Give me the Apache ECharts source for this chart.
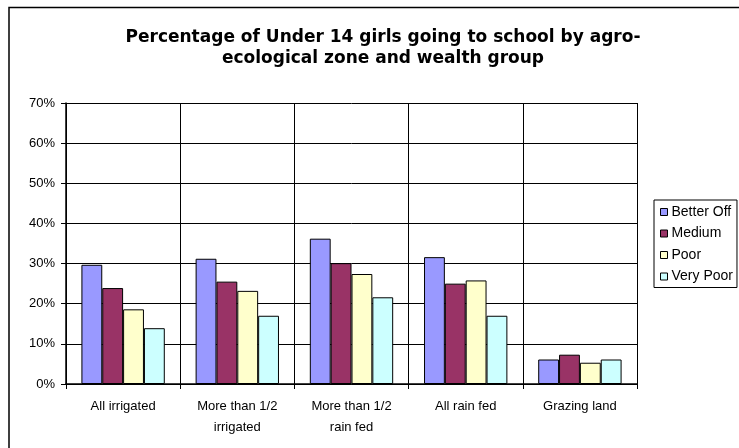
<!DOCTYPE html>
<html>
<head>
<meta charset="utf-8">
<script src="https://cdn.jsdelivr.net/npm/echarts@6/dist/echarts.min.js"></script>
<style>
  html, body { margin: 0; padding: 0; background: #fff; }
  #chart { width: 739px; height: 448px; }
</style>
</head>
<body>
<div id="chart"></div>
<script>
// Agro-ecological zones (x-axis categories)
const zones = ['All irrigated', 'More than 1/2\nirrigated', 'More than 1/2\nrain fed', 'All rain fed', 'Grazing land'];

// Share of under-14 girls attending school, percent, by wealth group
const betterOff = [29.7, 31.2, 36.2, 31.6, 6.1];
const medium    = [23.9, 25.5, 30.1, 25.0, 7.3];
const poor      = [18.6, 23.2, 27.4, 25.8, 5.3];
const veryPoor  = [13.9, 17.0, 21.6, 17.0, 6.1];

const groupNames = ['Better Off', 'Medium', 'Poor', 'Very Poor'];
const groupColors = ['#9999FF', '#993366', '#FFFFCC', '#CCFFFF'];
const groupValues = [betterOff, medium, poor, veryPoor];

// Y-axis ticks, percent
const yMin = 0, yMax = 70, yStep = 10;

const chart = echarts.init(document.getElementById('chart'), null, { renderer: 'canvas' });

chart.setOption({
  animation: false,
  backgroundColor: '#ffffff',
  title: {
    text: 'Percentage of Under 14 girls going to school by agro-\necological zone and wealth group',
    left: 378,
    top: 22,
    textAlign: 'center',
    textStyle: {
      fontFamily: 'DejaVu Sans',
      fontWeight: 'bold',
      fontSize: 17,
      lineHeight: 21,
      color: '#000'
    }
  },
  graphic: [{
    type: 'rect',
    shape: { x: 9, y: 7.5, width: 760, height: 460 },
    style: { fill: 'none', stroke: '#000', lineWidth: 1.5 },
    silent: true,
    z: -1
  }],
  legend: {
    orient: 'vertical',
    left: 654,
    top: 200,
    padding: [5, 4, 4, 6],
    itemWidth: 7,
    itemHeight: 7,
    itemGap: 7.5,
    icon: 'rect',
    borderColor: '#000',
    borderWidth: 1,
    itemStyle: { borderColor: '#000', borderWidth: 1 },
    textStyle: {
      fontFamily: 'Liberation Sans',
      fontSize: 14,
      color: '#000',
      padding: [0, 0, 0, -1]
    },
    data: groupNames
  },
  grid: {
    left: 66,
    right: 102,
    top: 103,
    bottom: 64,
    containLabel: false
  },
  xAxis: {
    type: 'category',
    data: zones,
    boundaryGap: true,
    axisLine: { show: true, lineStyle: { color: '#000', width: 1.5 } },
    axisTick: { show: true, length: 5, inside: false, lineStyle: { color: '#000' } },
    splitLine: { show: true, lineStyle: { color: '#000', width: 1 } },
    axisLabel: {
      interval: 0,
      margin: 12,
      fontFamily: 'Liberation Sans',
      fontSize: 13,
      lineHeight: 21,
      color: '#000'
    }
  },
  yAxis: {
    type: 'value',
    min: yMin,
    max: yMax,
    interval: yStep,
    axisLine: { show: true, lineStyle: { color: '#000', width: 1.5 } },
    axisTick: { show: true, length: 5, inside: false, lineStyle: { color: '#000' } },
    splitLine: { show: true, lineStyle: { color: '#000', width: 1 } },
    axisLabel: {
      margin: 11,
      fontFamily: 'Liberation Sans',
      fontSize: 13,
      color: '#000',
      formatter: v => v + '%'
    }
  },
  series: groupNames.map((name, i) => ({
    name: name,
    type: 'bar',
    data: groupValues[i],
    barGap: '0%',
    barCategoryGap: '27%',
    itemStyle: {
      color: groupColors[i],
      borderColor: '#000',
      borderWidth: 1
    }
  }))
});
</script>
</body>
</html>
